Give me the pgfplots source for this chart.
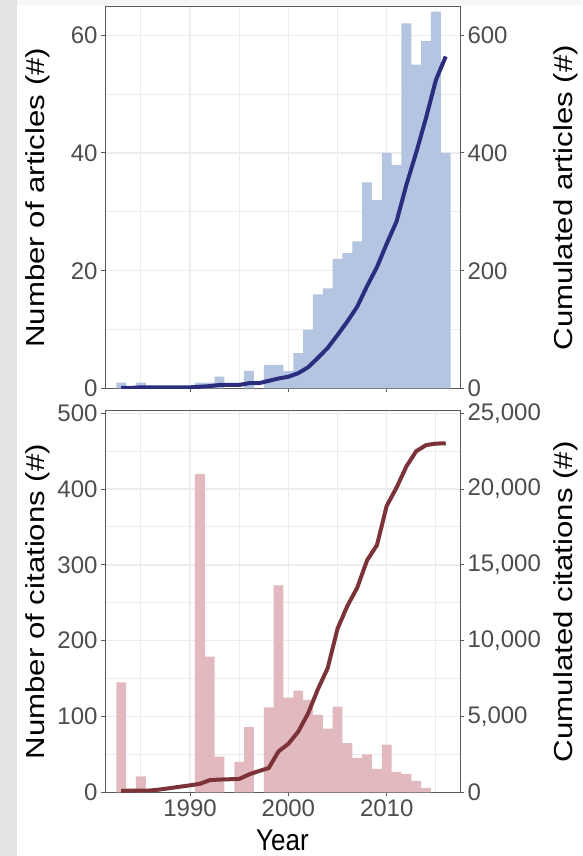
\documentclass[border=0pt]{standalone}
\usepackage{pgfplots}
\pgfplotsset{compat=1.18}
\usepackage{fontspec}
\setmainfont{Liberation Sans}
\usepackage{graphicx}
\definecolor{artbar}{HTML}{B3C5E1}
\definecolor{artline}{HTML}{2B2E7F}
\definecolor{citbar}{HTML}{E2B9BF}
\definecolor{citline}{HTML}{7B3337}
\definecolor{gridc}{HTML}{EBEBF0}
\definecolor{tickc}{HTML}{4D4D4D}
\definecolor{framec}{HTML}{5A5A5A}
\definecolor{stripc}{HTML}{E3E3E3}
\definecolor{topc}{HTML}{F6F6F6}

\pgfplotsset{
  base/.style={
    scale only axis, width=355pt,
    xmin=1981.35, xmax=2017.45,
    /pgf/number format/assume math mode=true,
    /pgf/number format/1000 sep={},
    tick label style={font=\fontsize{24}{28}\selectfont, color=tickc},
    axis line style={framec, line width=1pt},
    major tick length=4pt, minor tick length=0pt,
    tick style={framec, line width=1pt},
    tick align=outside,
    scaled ticks=false,
    label style={font=\fontsize{26}{30}\selectfont, color=black},
  },
  leftax/.style={
    base,
    xtick={1990,2000,2010},
    minor xtick={1985,1995,2005,2015},
    grid=both,
    major grid style={gridc, line width=1.5pt},
    minor grid style={gridc, line width=1pt},
    xtick pos=bottom, ytick pos=left,
    ylabel style={at={(axis description cs:-0.189,0.5)}, anchor=center},
  },
  rightax/.style={
    base,
    hide x axis,
    axis y line*=right,
    ylabel style={at={(axis description cs:1.299,0.5)}, anchor=center, rotate=0},
  },
}

\pgfplotstableread{
year n
1983 1
1985 1
1991 1
1992 1
1993 2
1996 3
1998 4
1999 4
2000 3
2001 6
2002 10
2003 16
2004 17
2005 22
2006 23
2007 25
2008 35
2009 32
2010 40
2011 38
2012 62
2013 55
2014 59
2015 64
2016 40
}\articles

\pgfplotstableread{
year c
1983 1
1984 1
1985 2
1986 2
1987 2
1988 2
1989 2
1990 2
1991 3
1992 4
1993 6
1994 6
1995 6
1996 9
1997 9
1998 13
1999 17
2000 20
2001 26
2002 36
2003 52
2004 69
2005 91
2006 114
2007 139
2008 174
2009 206
2010 246
2011 284
2012 346
2013 401
2014 460
2015 524
2016 564
}\cumarticles

\pgfplotstableread{
year n
1983 145
1985 21
1991 420
1992 179
1993 47
1995 40
1996 86
1998 112
1999 273
2000 125
2001 134
2002 122
2003 102
2004 84
2005 113
2006 65
2007 45
2008 50
2009 31
2010 63
2011 27
2012 24
2013 15
2014 6
}\citations

\pgfplotstableread{
year c
1983 100
1984 105
1985 110
1986 120
1987 190
1988 280
1989 370
1990 460
1991 560
1992 800
1993 840
1994 860
1995 880
1996 1180
1997 1400
1998 1600
1999 2700
2000 3200
2001 4000
2002 5200
2003 6800
2004 8200
2005 10800
2006 12300
2007 13500
2008 15300
2009 16300
2010 18900
2011 20100
2012 21500
2013 22500
2014 22900
2015 23000
2016 23020
}\cumcitations

\begin{document}
\begin{tikzpicture}
\useasboundingbox (0,0) rectangle (582pt,856pt);
\fill[white] (0,0) rectangle (582pt,856pt);
\fill[stripc] (0,0) rectangle (17pt,856pt);
\fill[topc] (17pt,851pt) rectangle (582pt,856pt);

% ---------- top panel ----------
\begin{axis}[leftax, at={(105pt,467.5pt)}, anchor=south west, height=381.5pt,
  ymin=0, ymax=64.8, ytick={0,20,40,60}, minor ytick={10,30,50},
  xticklabels={},
  ylabel={\scalebox{1.2}[1]{Number of articles (\#)}}]
  \addplot[ybar, bar width=1, fill=artbar, draw=none] table[x=year,y=n] {\articles};
\end{axis}
\begin{axis}[rightax, at={(105pt,467.5pt)}, anchor=south west, height=381.5pt,
  ymin=0, ymax=648, ytick={0,200,400,600},
  ylabel={\scalebox{1.2}[1]{Cumulated articles (\#)}}]
  \addplot[artline, line width=4pt, line join=round, no markers] table[x=year,y=c] {\cumarticles};
\end{axis}

% ---------- bottom panel ----------
\begin{axis}[leftax, at={(105pt,63.7pt)}, anchor=south west, height=381.3pt,
  ymin=0, ymax=503, ytick={0,100,...,500}, minor ytick={50,150,...,450},
  xlabel={\scalebox{1}[1.15]{Year}},
  xlabel style={at={(axis description cs:0.5,0)}, yshift=-48pt, anchor=center},
  ylabel={\scalebox{1.2}[1]{Number of citations (\#)}}]
  \addplot[ybar, bar width=1, fill=citbar, draw=none] table[x=year,y=n] {\citations};
\end{axis}
\begin{axis}[rightax, at={(105pt,63.7pt)}, anchor=south west, height=381.3pt,
  ymin=0, ymax=25150, ytick={0,5000,...,25000},
  /pgf/number format/1000 sep={,},
  ylabel={\scalebox{1.2}[1]{Cumulated citations (\#)}}]
  \addplot[citline, line width=4pt, line join=round, no markers] table[x=year,y=c] {\cumcitations};
\end{axis}
\end{tikzpicture}
\end{document}
